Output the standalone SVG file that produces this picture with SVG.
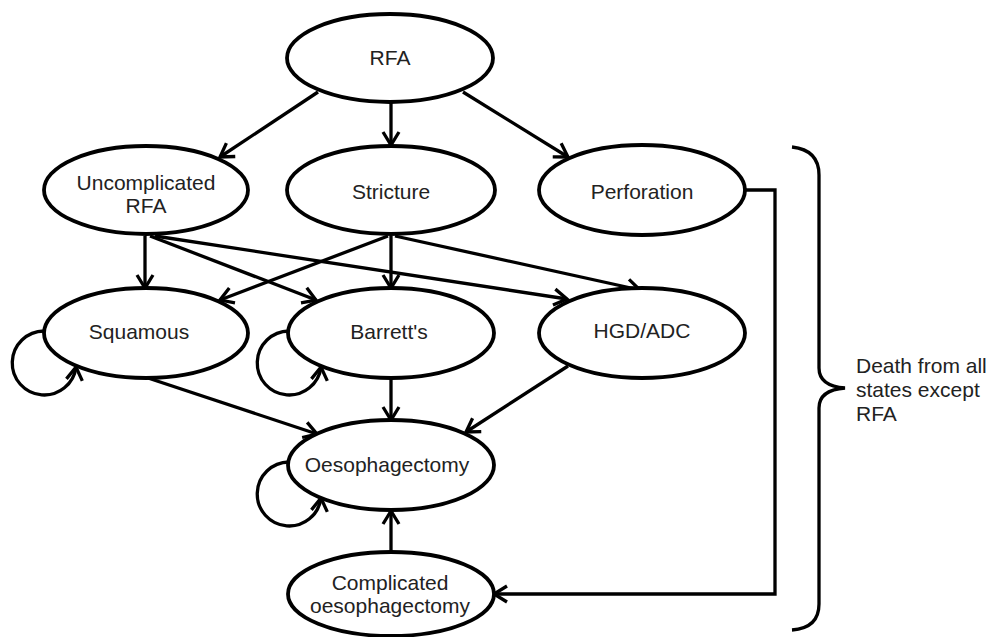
<svg xmlns="http://www.w3.org/2000/svg" width="989" height="637" viewBox="0 0 989 637">
<style>
.node ellipse{fill:#fff;stroke:#000;stroke-width:3.8}
.node text,.label{font-family:"Liberation Sans",Arial,sans-serif;font-size:21px;fill:#222;text-anchor:middle}
.label{text-anchor:start}
.edge{fill:none;stroke:#000;stroke-width:3.3;marker-end:url(#arr)}
.plain{fill:none;stroke:#000;stroke-width:3.3}
</style>
<defs>
<marker id="arr" markerUnits="userSpaceOnUse" markerWidth="20" markerHeight="20" viewBox="0 0 20 20" refX="15" refY="10" orient="auto">
<path d="M2,2 L15,10 L2,18" fill="none" stroke="#000" stroke-width="3.3" stroke-linejoin="miter"/>
</marker>
</defs>
<rect width="989" height="637" fill="#fff"/>
<g id="connectors">
<line class="edge" x1="318" y1="92" x2="220" y2="157"/>
<line class="edge" x1="391" y1="103" x2="391" y2="145"/>
<line class="edge" x1="463" y1="92" x2="568" y2="157"/>
<line class="edge" x1="145" y1="236" x2="145" y2="288"/>
<line class="edge" x1="150" y1="236" x2="316" y2="300"/>
<line class="edge" x1="155" y1="236" x2="567" y2="299"/>
<line class="edge" x1="388" y1="236" x2="220" y2="300"/>
<line class="edge" x1="391" y1="236" x2="391" y2="288"/>
<line class="edge" x1="395" y1="236" x2="640" y2="290"/>
<line class="edge" x1="148" y1="378" x2="317" y2="434"/>
<line class="edge" x1="391" y1="379" x2="391" y2="420"/>
<line class="edge" x1="568" y1="366" x2="466" y2="432"/>
<line class="edge" x1="391" y1="552" x2="391" y2="511"/>
<path class="edge" d="M44,331 A32,32 0 1 0 76,367"/>
<path class="edge" d="M289,331 A32,32 0 1 0 321,367"/>
<path class="edge" d="M289,462 A32,32 0 1 0 321,498"/>
<path class="edge" d="M745,190 L775,190 L775,594 L494,594"/>
</g>
<g id="RFA" class="node"><ellipse cx="390" cy="58" rx="103" ry="44"/><text x="390" y="65">RFA</text></g>
<g id="Uncomplicated" class="node"><ellipse cx="146" cy="190" rx="102" ry="44"/><text x="146" y="190">Uncomplicated</text><text x="146" y="213">RFA</text></g>
<g id="Stricture" class="node"><ellipse cx="391" cy="190" rx="104" ry="44"/><text x="391" y="199">Stricture</text></g>
<g id="Perforation" class="node"><ellipse cx="642" cy="190" rx="103" ry="45"/><text x="642" y="199">Perforation</text></g>
<g id="Squamous" class="node"><ellipse cx="146" cy="333" rx="102" ry="45"/><text x="139" y="339">Squamous</text></g>
<g id="Barretts" class="node"><ellipse cx="391" cy="333" rx="103" ry="45"/><text x="389" y="339">Barrett's</text></g>
<g id="HGDADC" class="node"><ellipse cx="642" cy="333" rx="103" ry="45"/><text x="642" y="338">HGD/ADC</text></g>
<g id="Oesophagectomy" class="node"><ellipse cx="391" cy="465" rx="103" ry="45"/><text x="387" y="472">Oesophagectomy</text></g>
<g id="Complicated" class="node"><ellipse cx="391" cy="594" rx="103" ry="42"/><text x="390" y="590">Complicated</text><text x="390" y="613">oesophagectomy</text></g>
<g id="death">
<path class="plain" d="M792,147 Q819,150 819,175 L819,368 Q819,386 845,388 Q819,390 819,408 L819,604 Q819,628 792,630"/>
<text class="label" x="856" y="373">Death from all</text>
<text class="label" x="856" y="397">states except</text>
<text class="label" x="856" y="421">RFA</text>
</g>
</svg>
